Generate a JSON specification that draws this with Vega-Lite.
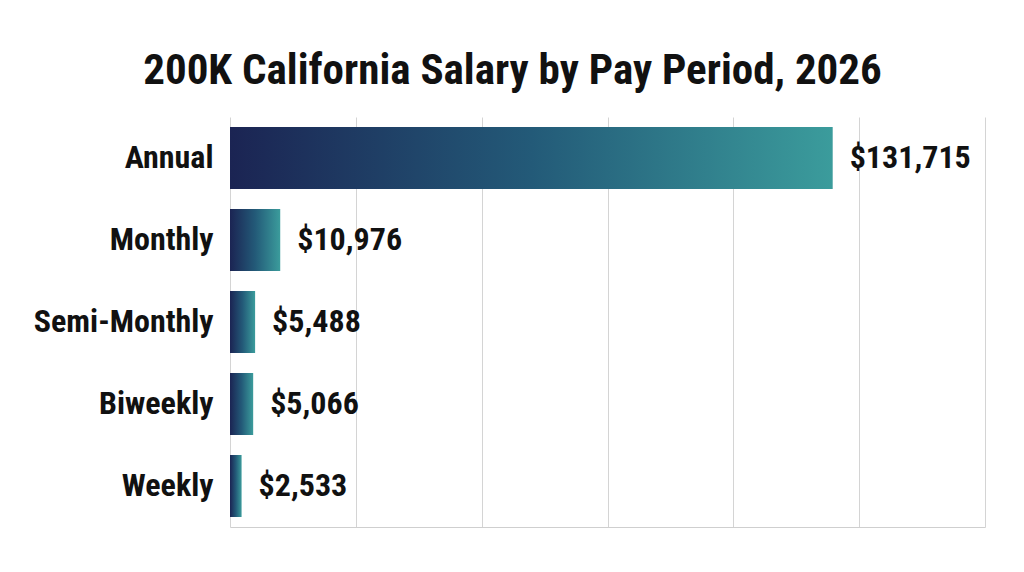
{
  "$schema": "https://vega.github.io/schema/vega-lite/v6.json",
  "width": 755,
  "height": 410,
  "autosize": {"type": "none"},
  "padding": {"left": 230, "top": 117, "right": 39, "bottom": 45},
  "background": "white",
  "title": {
    "text": "200K California Salary by Pay Period, 2026",
    "font": "Roboto Condensed, Liberation Sans Narrow, DejaVu Sans Condensed, Roboto",
    "fontSize": 43,
    "fontWeight": "bold",
    "color": "#111111",
    "anchor": "middle",
    "frame": "group",
    "baseline": "alphabetic",
    "offset": -10,
    "dx": -95
  },
  "config": {
    "view": {"stroke": null},
    "axis": {
      "labelFont": "Roboto Condensed, Liberation Sans Narrow, DejaVu Sans Condensed, Roboto",
      "gridColor": "#d4d4d4",
      "domainColor": "#cfcfcf"
    }
  },
  "data": {
    "values": [
      {"period": "Annual", "amount": 131715},
      {"period": "Monthly", "amount": 10976},
      {"period": "Semi-Monthly", "amount": 5488},
      {"period": "Biweekly", "amount": 5066},
      {"period": "Weekly", "amount": 2533}
    ]
  },
  "encoding": {
    "y": {
      "field": "period",
      "type": "nominal",
      "sort": null,
      "scale": {"paddingInner": 0.244, "paddingOuter": 0.122},
      "axis": {
        "title": null,
        "ticks": false,
        "domain": false,
        "labelFontSize": 32,
        "labelFontWeight": "bold",
        "labelColor": "#111111",
        "labelPadding": 17
      }
    },
    "x": {
      "field": "amount",
      "type": "quantitative",
      "scale": {"domain": [0, 165000], "nice": false},
      "axis": {
        "title": null,
        "labels": false,
        "ticks": false,
        "grid": true,
        "domain": true,
        "values": [0, 27500, 55000, 82500, 110000, 137500, 165000]
      }
    }
  },
  "layer": [
    {
      "mark": {
        "type": "bar",
        "color": {
          "gradient": "linear",
          "x1": 0, "y1": 0, "x2": 1, "y2": 0,
          "stops": [
            {"offset": 0, "color": "#1b2453"},
            {"offset": 0.5, "color": "#235a78"},
            {"offset": 1, "color": "#3b9c9c"}
          ]
        }
      }
    },
    {
      "mark": {
        "type": "text",
        "align": "left",
        "baseline": "middle",
        "dx": 17,
        "font": "Roboto Condensed, Liberation Sans Narrow, DejaVu Sans Condensed, Roboto",
        "fontSize": 32,
        "fontWeight": "bold",
        "color": "#111111"
      },
      "encoding": {
        "text": {"field": "amount", "type": "quantitative", "format": "$,.0f"}
      }
    }
  ]
}
